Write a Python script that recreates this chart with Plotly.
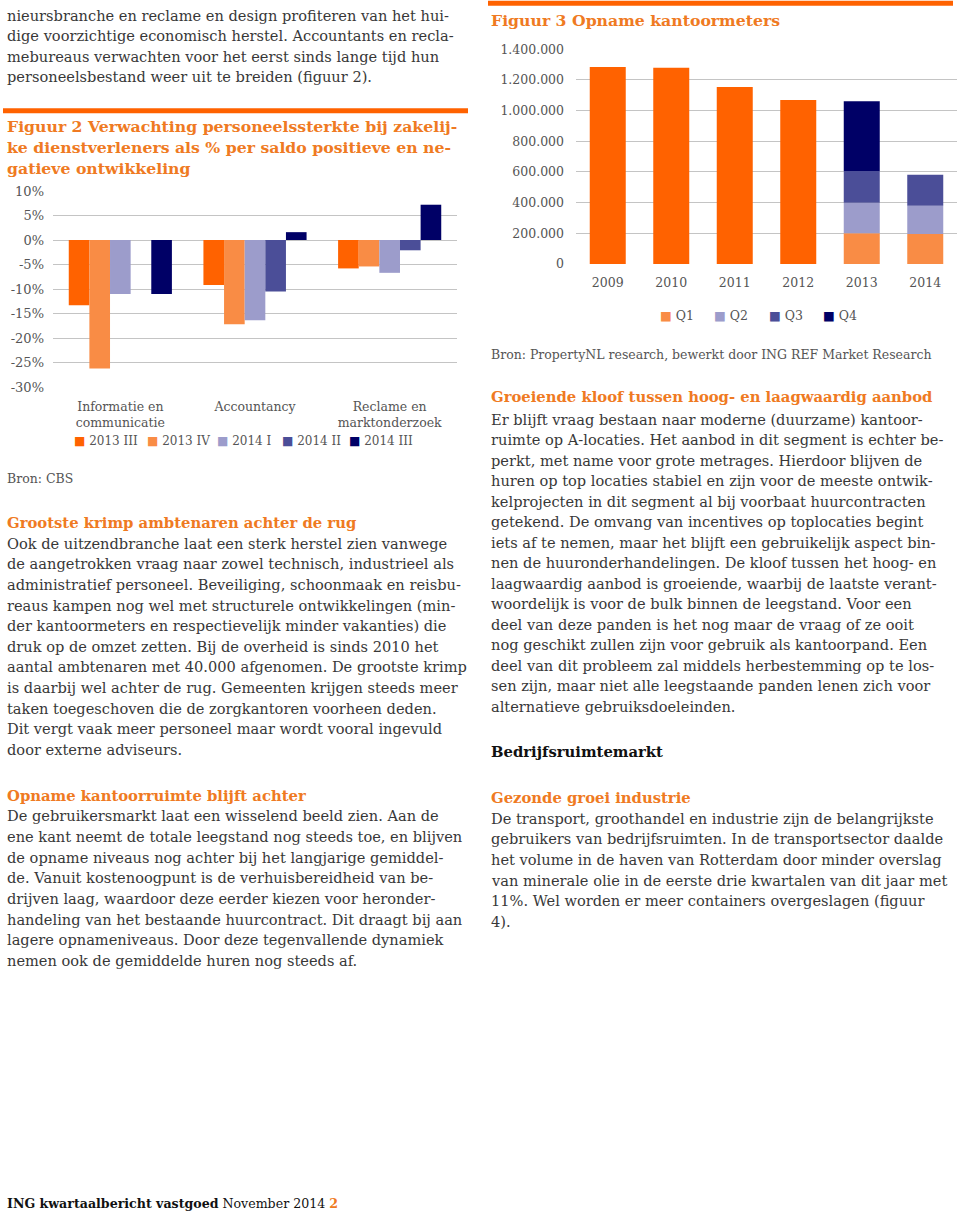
import plotly.graph_objects as go

W, H = 960, 1215

# ---------------- data: Figuur 2 ----------------
fig2_categories = ["Informatie en<br>communicatie", "Accountancy", "Reclame en<br>marktonderzoek"]
fig2_series = ["2013 III", "2013 IV", "2014 I", "2014 II", "2014 III"]
fig2_2013_III = [-13.3, -9.2, -5.8]
fig2_2013_IV = [-26.2, -17.2, -5.4]
fig2_2014_I = [-11.0, -16.4, -6.7]
fig2_2014_II = [0.0, -10.5, -2.1]
fig2_2014_III = [-11.0, 1.6, 7.2]
fig2_tickvals = [10, 5, 0, -5, -10, -15, -20, -25, -30]
fig2_ticktext = ["10%", "5%", "0%", "-5%", "-10%", "-15%", "-20%", "-25%", "-30%"]

# ---------------- data: Figuur 3 ----------------
fig3_years = ["2009", "2010", "2011", "2012", "2013", "2014"]
fig3_annual_years = ["2009", "2010", "2011", "2012"]
fig3_annual = [1285000, 1280000, 1154000, 1069000]
fig3_quarter_years = ["2013", "2014"]
fig3_quarters = ["Q1", "Q2", "Q3", "Q4"]
fig3_q1 = [200000, 196000]
fig3_q2 = [200000, 184000]
fig3_q3 = [206000, 202000]
fig3_q4 = [455000, None]
fig3_tickvals = [0, 200000, 400000, 600000, 800000, 1000000, 1200000, 1400000]
fig3_ticktext = ["0", "200.000", "400.000", "600.000", "800.000", "1.000.000", "1.200.000", "1.400.000"]

# ---------------- styles ----------------
FONT = "DejaVu Serif"
ORANGE_DARK = "#FF6200"
ORANGE_LIGHT = "#F98C45"
LAVENDER = "#9C9CCB"
MIDBLUE = "#4B4E98"
NAVY = "#000066"
TITLE_ORANGE = "#EF7A22"
TEXT = "#383838"
TICK = "#555555"
GRID = "#C4C4C4"
fig2_colors = [ORANGE_DARK, ORANGE_LIGHT, LAVENDER, MIDBLUE, NAVY]
fig3_q_colors = [ORANGE_LIGHT, LAVENDER, MIDBLUE, NAVY]


def px_x(x):
    return x / W


def px_y(y):
    return 1 - y / H


fig = go.Figure()

# ---- Figuur 2 bars ----
fig2_values = [fig2_2013_III, fig2_2013_IV, fig2_2014_I, fig2_2014_II, fig2_2014_III]
for name, vals, col in zip(fig2_series, fig2_values, fig2_colors):
    fig.add_trace(go.Bar(x=fig2_categories, y=vals, name=name, marker_color=col,
                         marker_line_width=0, xaxis="x", yaxis="y", showlegend=False))

# ---- Figuur 3 bars ----
BW = 0.567
fig.add_trace(go.Bar(x=fig3_annual_years, y=fig3_annual, name="Jaar", marker_color=ORANGE_DARK,
                     marker_line_width=0, width=BW, offset=-BW / 2, xaxis="x2", yaxis="y2",
                     showlegend=False))
q_series = [fig3_q1, fig3_q2, fig3_q3, fig3_q4]
base = [0 for _ in fig3_quarter_years]
for name, vals, col in zip(fig3_quarters, q_series, fig3_q_colors):
    fig.add_trace(go.Bar(x=fig3_quarter_years, y=vals, base=list(base), name=name, marker_color=col,
                         marker_line_width=0, width=BW, offset=-BW / 2, xaxis="x2", yaxis="y2",
                         showlegend=False))
    base = [b + (v or 0) for b, v in zip(base, vals)]

annotations = []


def ann(text, x, y, size, color=TEXT, xanchor="left"):
    annotations.append(dict(text=text, x=px_x(x), y=px_y(y), xref="paper", yref="paper",
                            xanchor=xanchor, yanchor="middle", showarrow=False,
                            font=dict(family=FONT, size=size, color=color)))


def block(lines, x, y0, dy, size=14.6, color=TEXT, bold=False):
    for i, line in enumerate(lines):
        t = f"<b>{line}</b>" if bold else line
        ann(t, x, y0 + i * dy, size, color)


HEAD = 14.8
TITLE = 15.7
LX, RX = 5, 489

# ---- left column text ----
block(["nieursbranche en reclame en design profiteren van het hui-",
       "dige voorzichtige economisch herstel. Accountants en recla-",
       "mebureaus verwachten voor het eerst sinds lange tijd hun",
       "personeelsbestand weer uit te breiden (figuur 2)."], LX, 15.3, 20.45)

block(["Figuur 2 Verwachting personeelssterkte bij zakelij-",
       "ke dienstverleners als % per saldo positieve en ne-",
       "gatieve ontwikkeling"], LX, 127, 21, size=TITLE, color=TITLE_ORANGE, bold=True)

ann("Bron: CBS", LX, 478, 12.5, TICK)

block(["Grootste krimp ambtenaren achter de rug"], LX, 522.7, 20, size=HEAD, color=TITLE_ORANGE, bold=True)
block(["Ook de uitzendbranche laat een sterk herstel zien vanwege",
       "de aangetrokken vraag naar zowel technisch, industrieel als",
       "administratief personeel. Beveiliging, schoonmaak en reisbu-",
       "reaus kampen nog wel met structurele ontwikkelingen (min-",
       "der kantoormeters en respectievelijk minder vakanties) die",
       "druk op de omzet zetten. Bij de overheid is sinds 2010 het",
       "aantal ambtenaren met 40.000 afgenomen. De grootste krimp",
       "is daarbij wel achter de rug. Gemeenten krijgen steeds meer",
       "taken toegeschoven die de zorgkantoren voorheen deden.",
       "Dit vergt vaak meer personeel maar wordt vooral ingevuld",
       "door externe adviseurs."], LX, 543.3, 20.6)

block(["Opname kantoorruimte blijft achter"], LX, 795, 20, size=HEAD, color=TITLE_ORANGE, bold=True)
block(["De gebruikersmarkt laat een wisselend beeld zien. Aan de",
       "ene kant neemt de totale leegstand nog steeds toe, en blijven",
       "de opname niveaus nog achter bij het langjarige gemiddel-",
       "de. Vanuit kostenoogpunt is de verhuisbereidheid van be-",
       "drijven laag, waardoor deze eerder kiezen voor heronder-",
       "handeling van het bestaande huurcontract. Dit draagt bij aan",
       "lagere opnameniveaus. Door deze tegenvallende dynamiek",
       "nemen ook de gemiddelde huren nog steeds af."], LX, 815.7, 20.7)

# ---- right column text ----
block(["Figuur 3 Opname kantoormeters"], RX, 20, 20, size=TITLE, color=TITLE_ORANGE, bold=True)
ann("Bron: PropertyNL research, bewerkt door ING REF Market Research", RX, 354, 12.5, TICK)

block(["Groeiende kloof tussen hoog- en laagwaardig aanbod"], RX, 396.7, 20, size=HEAD,
      color=TITLE_ORANGE, bold=True)
block(["Er blijft vraag bestaan naar moderne (duurzame) kantoor-",
       "ruimte op A-locaties. Het aanbod in dit segment is echter be-",
       "perkt, met name voor grote metrages. Hierdoor blijven de",
       "huren op top locaties stabiel en zijn voor de meeste ontwik-",
       "kelprojecten in dit segment al bij voorbaat huurcontracten",
       "getekend. De omvang van incentives op toplocaties begint",
       "iets af te nemen, maar het blijft een gebruikelijk aspect bin-",
       "nen de huuronderhandelingen. De kloof tussen het hoog- en",
       "laagwaardig aanbod is groeiende, waarbij de laatste verant-",
       "woordelijk is voor de bulk binnen de leegstand. Voor een",
       "deel van deze panden is het nog maar de vraag of ze ooit",
       "nog geschikt zullen zijn voor gebruik als kantoorpand. Een",
       "deel van dit probleem zal middels herbestemming op te los-",
       "sen zijn, maar niet alle leegstaande panden lenen zich voor",
       "alternatieve gebruiksdoeleinden."], RX, 419.3, 20.5)

block(["Bedrijfsruimtemarkt"], RX, 751.7, 20, size=HEAD, color="#111111", bold=True)

block(["Gezonde groei industrie"], RX, 797.3, 20, size=HEAD, color=TITLE_ORANGE, bold=True)
block(["De transport, groothandel en industrie zijn de belangrijkste",
       "gebruikers van bedrijfsruimten. In de transportsector daalde",
       "het volume in de haven van Rotterdam door minder overslag",
       "van minerale olie in de eerste drie kwartalen van dit jaar met",
       "11%. Wel worden er meer containers overgeslagen (figuur",
       "4)."], RX, 818.3, 20.6)

# ---- footer ----
ann(f"<b>ING kwartaalbericht vastgoed</b> November 2014 <b><span style='color:{TITLE_ORANGE}'>2</span></b>",
    LX, 1203, 12.6, "#111111")

# ---- manual legends ----
fig2_legend_x = [72, 145, 215, 280, 347]
for name, col, lx in zip(fig2_series, fig2_colors, fig2_legend_x):
    ann(f"<span style='color:{col}'>■</span> {name}", lx, 441, 12, TICK)

fig3_legend_x = [658, 712, 767, 821]
for name, col, lx in zip(fig3_quarters, fig3_q_colors, fig3_legend_x):
    ann(f"<span style='color:{col}'>■</span> {name}", lx, 315, 12.5, TICK)

shapes = [
    dict(type="line", xref="paper", yref="paper", x0=px_x(3), x1=px_x(468), y0=px_y(110.8), y1=px_y(110.8),
         line=dict(color=ORANGE_DARK, width=5)),
    dict(type="line", xref="paper", yref="paper", x0=px_x(488), x1=px_x(953), y0=px_y(3.3), y1=px_y(3.3),
         line=dict(color=ORANGE_DARK, width=5)),
]

tickfont = dict(family=FONT, size=12.5, color=TICK)

fig.update_layout(
    width=W, height=H,
    margin=dict(l=0, r=0, t=0, b=0, pad=0, autoexpand=False),
    paper_bgcolor="white", plot_bgcolor="white",
    barmode="group", bargap=0.234, bargroupgap=0,
    showlegend=False,
    annotations=annotations,
    shapes=shapes,
    font=dict(family=FONT, color=TEXT),
    xaxis=dict(domain=[px_x(53), px_x(457)], anchor="y", type="category",
               categoryarray=fig2_categories, categoryorder="array",
               showgrid=False, showline=False, zeroline=False, ticks="",
               tickfont=dict(family=FONT, size=12.5, color=TICK), ticklabelstandoff=10),
    yaxis=dict(domain=[px_y(387), px_y(191)], anchor="x", range=[-30, 10],
               tickvals=fig2_tickvals, ticktext=fig2_ticktext,
               showgrid=True, gridcolor=GRID, gridwidth=1, zeroline=False, showline=False,
               ticks="", tickfont=dict(family=FONT, size=13, color=TICK), ticklabelstandoff=8),
    xaxis2=dict(domain=[px_x(576), px_x(957)], anchor="y2", type="category",
                categoryarray=fig3_years, categoryorder="array",
                showgrid=False, showline=False, zeroline=False, ticks="",
                tickfont=tickfont, ticklabelstandoff=9),
    yaxis2=dict(domain=[px_y(264), px_y(49.3)], anchor="x2", range=[0, 1400000],
                tickvals=fig3_tickvals, ticktext=fig3_ticktext,
                showgrid=True, gridcolor=GRID, gridwidth=1, zeroline=False, showline=False,
                ticks="", tickfont=tickfont, ticklabelstandoff=11),
)

fig.write_html("out.html",
               config={"displayModeBar": False},
               post_script="document.body.style.margin='0px';document.body.style.padding='0px';")
